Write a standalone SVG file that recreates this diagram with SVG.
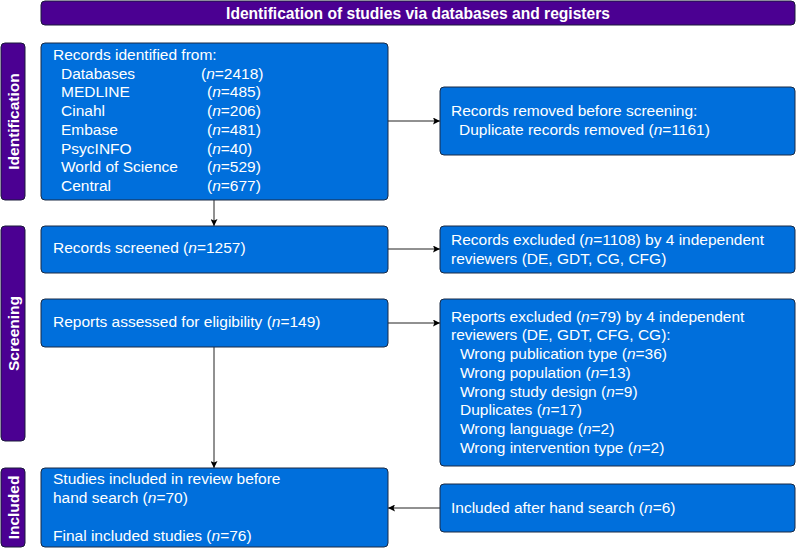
<svg xmlns="http://www.w3.org/2000/svg" width="796" height="548" viewBox="0 0 796 548">
<defs>
<style>
.box{fill:#006fdc;stroke:#1a2a44;stroke-width:1}
.band{fill:#4b0092;stroke:#1a1a3a;stroke-width:1}
.t{font-family:"Liberation Sans",Arial,sans-serif;font-size:15.5px;fill:#ffffff}
.h{font-family:"Liberation Sans",Arial,sans-serif;font-size:15.6px;font-weight:bold;fill:#ffffff}
.s{font-family:"Liberation Sans",Arial,sans-serif;font-size:15.5px;font-weight:bold;fill:#ffffff}
.c{fill:none;stroke:#222222;stroke-width:1}
</style>
<marker id="ah" viewBox="0 0 10 10" refX="10" refY="5" markerWidth="9" markerHeight="7" markerUnits="userSpaceOnUse" orient="auto">
<path d="M0,0 L10,5 L0,10 L2,5 z" fill="#000000"/>
</marker>
</defs>
<rect width="796" height="548" fill="#ffffff"/>

<g id="header">
<rect class="band" x="41" y="1" width="754" height="24" rx="4"/>
<text class="h" x="418" y="18.5" text-anchor="middle">Identification of studies via databases and registers</text>
</g>

<g id="phase-identification">
<rect class="band" x="1" y="43" width="24" height="157" rx="4"/>
<text class="s" transform="translate(18.5,121.5) rotate(-90)" text-anchor="middle">Identification</text>
</g>
<g id="phase-screening">
<rect class="band" x="1" y="226" width="24" height="215" rx="4"/>
<text class="s" transform="translate(18.5,333.5) rotate(-90)" text-anchor="middle">Screening</text>
</g>
<g id="phase-included">
<rect class="band" x="1" y="468" width="24" height="79" rx="4"/>
<text class="s" transform="translate(18.5,507.5) rotate(-90)" text-anchor="middle">Included</text>
</g>

<g id="connectors">
<line class="c" x1="214" y1="200" x2="214" y2="226" marker-end="url(#ah)"/>
<line class="c" x1="388" y1="121" x2="440" y2="121" marker-end="url(#ah)"/>
<line class="c" x1="388" y1="249" x2="440" y2="249" marker-end="url(#ah)"/>
<line class="c" x1="388" y1="323" x2="440" y2="323" marker-end="url(#ah)"/>
<line class="c" x1="214" y1="347" x2="214" y2="468" marker-end="url(#ah)"/>
<line class="c" x1="440" y1="508" x2="388" y2="508" marker-end="url(#ah)"/>
</g>

<g id="records-identified">
<rect class="box" x="41" y="43" width="347" height="157" rx="4"/>
<text class="t" x="53" y="60">Records identified from:</text>
<text class="t" x="61" y="78.7">Databases</text><text class="t" x="201" y="78.7">(<tspan font-style="italic">n</tspan>=2418)</text>
<text class="t" x="61" y="97.4">MEDLINE</text><text class="t" x="207" y="97.4">(<tspan font-style="italic">n</tspan>=485)</text>
<text class="t" x="61" y="116.1">Cinahl</text><text class="t" x="207" y="116.1">(<tspan font-style="italic">n</tspan>=206)</text>
<text class="t" x="61" y="134.8">Embase</text><text class="t" x="207" y="134.8">(<tspan font-style="italic">n</tspan>=481)</text>
<text class="t" x="61" y="153.5">PsycINFO</text><text class="t" x="207" y="153.5">(<tspan font-style="italic">n</tspan>=40)</text>
<text class="t" x="61" y="172.2">World of Science</text><text class="t" x="207" y="172.2">(<tspan font-style="italic">n</tspan>=529)</text>
<text class="t" x="61" y="190.9">Central</text><text class="t" x="207" y="190.9">(<tspan font-style="italic">n</tspan>=677)</text>
</g>

<g id="records-removed">
<rect class="box" x="440" y="87" width="355" height="68" rx="4"/>
<text class="t" x="451" y="116">Records removed before screening:</text>
<text class="t" x="459" y="134.7">Duplicate records removed (<tspan font-style="italic">n</tspan>=1161)</text>
</g>

<g id="records-screened">
<rect class="box" x="41" y="226" width="347" height="47" rx="4"/>
<text class="t" x="53" y="253">Records screened (<tspan font-style="italic">n</tspan>=1257)</text>
</g>

<g id="records-excluded">
<rect class="box" x="440" y="226" width="355" height="47" rx="4"/>
<text class="t" x="451" y="245">Records excluded (<tspan font-style="italic">n</tspan>=1108) by 4 independent</text>
<text class="t" x="451" y="263.7">reviewers (DE, GDT, CG, CFG)</text>
</g>

<g id="reports-assessed">
<rect class="box" x="41" y="299" width="347" height="48" rx="4"/>
<text class="t" x="53" y="327">Reports assessed for eligibility (<tspan font-style="italic">n</tspan>=149)</text>
</g>

<g id="reports-excluded">
<rect class="box" x="440" y="299" width="355" height="167" rx="4"/>
<text class="t" x="451" y="321.7">Reports excluded (<tspan font-style="italic">n</tspan>=79) by 4 independent</text>
<text class="t" x="451" y="340.4">reviewers (DE, GDT, CFG, CG):</text>
<text class="t" x="460" y="359.1">Wrong publication type (<tspan font-style="italic">n</tspan>=36)</text>
<text class="t" x="460" y="377.8">Wrong population (<tspan font-style="italic">n</tspan>=13)</text>
<text class="t" x="460" y="396.5">Wrong study design (<tspan font-style="italic">n</tspan>=9)</text>
<text class="t" x="460" y="415.2">Duplicates (<tspan font-style="italic">n</tspan>=17)</text>
<text class="t" x="460" y="433.9">Wrong language (<tspan font-style="italic">n</tspan>=2)</text>
<text class="t" x="460" y="452.6">Wrong intervention type (<tspan font-style="italic">n</tspan>=2)</text>
</g>

<g id="studies-included">
<rect class="box" x="41" y="468" width="347" height="79" rx="4"/>
<text class="t" x="53" y="484.3">Studies included in review before</text>
<text class="t" x="53" y="503">hand search (<tspan font-style="italic">n</tspan>=70)</text>
<text class="t" x="53" y="541">Final included studies (<tspan font-style="italic">n</tspan>=76)</text>
</g>

<g id="hand-search">
<rect class="box" x="440" y="484" width="355" height="48" rx="4"/>
<text class="t" x="451" y="512.7">Included after hand search (<tspan font-style="italic">n</tspan>=6)</text>
</g>
</svg>
